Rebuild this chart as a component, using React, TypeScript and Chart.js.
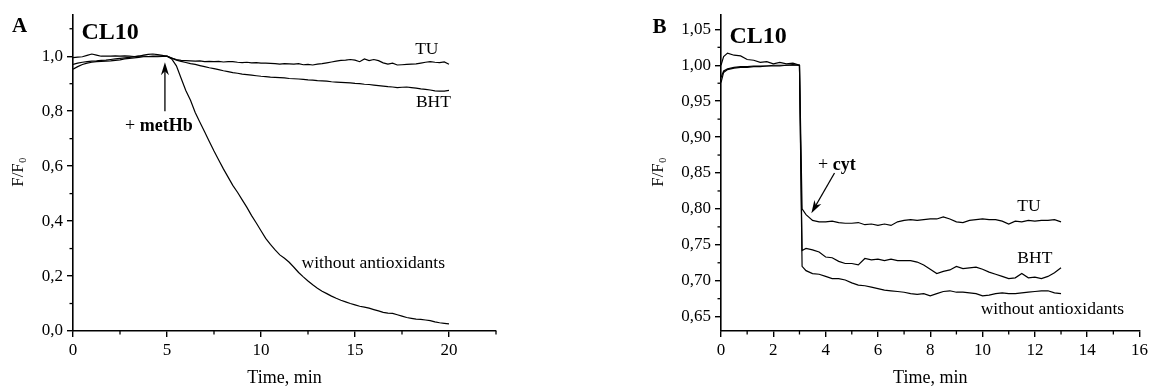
import { useEffect, useRef } from "react";
import { Chart, registerables } from "chart.js";
Chart.register(...registerables);

const FONT = '"Liberation Serif", "Times New Roman", serif';

// ---------- Panel A data (time, min) ----------
const timeA = [
  0, 0.25, 0.5, 0.75, 1, 1.25, 1.5, 1.75, 2, 2.25, 2.5, 2.75, 3, 3.25, 3.5, 3.75, 4, 4.25, 4.5, 4.75,
  5, 5.25, 5.5, 5.75, 6, 6.25, 6.5, 6.75, 7, 7.25, 7.5, 7.75, 8, 8.25, 8.5, 8.75, 9, 9.25, 9.5, 9.75,
  10, 10.25, 10.5, 10.75, 11, 11.25, 11.5, 11.75, 12, 12.25, 12.5, 12.75, 13, 13.25, 13.5, 13.75, 14, 14.25, 14.5, 14.75,
  15, 15.25, 15.5, 15.75, 16, 16.25, 16.5, 16.75, 17, 17.25, 17.5, 17.75, 18, 18.25, 18.5, 18.75, 19, 19.25, 19.5, 19.75,
  20,
];
const tuA = [
  0.995, 0.997, 0.998, 1.003, 1.008, 1.004, 1.0, 1.0, 1.0, 1.001, 1.0, 1.001, 1.0, 0.999, 1.0, 1.0, 0.999, 1.0, 1.0, 1.0,
  1.0, 0.993, 0.988, 0.985, 0.984, 0.983, 0.982, 0.983, 0.98, 0.981, 0.98, 0.981, 0.979, 0.98, 0.98, 0.978, 0.977, 0.978, 0.976, 0.977,
  0.975, 0.975, 0.974, 0.973, 0.971, 0.973, 0.972, 0.971, 0.973, 0.969, 0.97, 0.968, 0.971, 0.973, 0.976, 0.979, 0.982, 0.985, 0.986, 0.988,
  0.986, 0.98, 0.99, 0.984, 0.988, 0.984, 0.976, 0.971, 0.975, 0.968, 0.969, 0.97, 0.971, 0.972, 0.975, 0.978, 0.98, 0.978, 0.977, 0.979,
  0.971,
];
const bhtA = [
  0.97, 0.975, 0.978, 0.98, 0.982, 0.983, 0.985, 0.986, 0.988, 0.99, 0.992, 0.994, 0.996, 0.998, 1.0, 1.004, 1.007, 1.008, 1.006, 1.003,
  1.0, 0.993, 0.986, 0.981, 0.977, 0.973, 0.97, 0.966, 0.962, 0.958, 0.955, 0.951, 0.947, 0.944, 0.94, 0.938, 0.935, 0.933, 0.931, 0.929,
  0.927, 0.926, 0.924, 0.923, 0.922, 0.921, 0.919, 0.918, 0.917, 0.916, 0.914, 0.913, 0.911, 0.91, 0.909, 0.907, 0.906, 0.905, 0.904, 0.903,
  0.901, 0.9, 0.898, 0.897, 0.895, 0.893, 0.891, 0.889, 0.888, 0.886, 0.887, 0.888, 0.886, 0.884, 0.881, 0.879, 0.877, 0.874, 0.873, 0.873,
  0.876,
];
const noneA = [
  0.953, 0.962, 0.97, 0.975, 0.978, 0.98, 0.981, 0.982, 0.983, 0.985, 0.987, 0.99, 0.992, 0.994, 0.996, 0.998, 0.998, 0.999, 0.998, 0.999,
  1.0, 0.99, 0.965, 0.92, 0.875, 0.84, 0.795, 0.76, 0.725, 0.69, 0.655, 0.622, 0.59, 0.56, 0.53, 0.505, 0.477, 0.45, 0.42, 0.393,
  0.365, 0.337, 0.315, 0.295, 0.277, 0.265, 0.25, 0.232, 0.213, 0.197, 0.182, 0.168, 0.156, 0.145, 0.136, 0.127, 0.119, 0.112, 0.106, 0.1,
  0.095, 0.09, 0.087, 0.083, 0.078, 0.073, 0.068, 0.065, 0.064, 0.059, 0.054, 0.049, 0.046, 0.043, 0.042, 0.04, 0.038, 0.033, 0.03, 0.028,
  0.026,
];
const xTicksA = [0, 5, 10, 15, 20];
const xMinorA = [2.5, 7.5, 12.5, 17.5, 22.5];
const yTicksA = [0, 0.2, 0.4, 0.6, 0.8, 1.0];
const yMinorA = [0.1, 0.3, 0.5, 0.7, 0.9, 1.1];

// ---------- Panel B data (time, min) ----------
const timeB = [
  0, 0.1, 0.25, 0.5, 0.75, 1, 1.25, 1.5, 1.75, 2, 2.25, 2.5, 2.75, 3,
  3.1,
  3.25, 3.5, 3.75, 4, 4.25, 4.5, 4.75, 5, 5.25, 5.5, 5.75, 6, 6.25, 6.5, 6.75, 7, 7.25, 7.5, 7.75, 8,
  8.25, 8.5, 8.75, 9, 9.25, 9.5, 9.75, 10, 10.25, 10.5, 10.75, 11, 11.25, 11.5, 11.75, 12, 12.25, 12.5, 12.75, 13,
];
const tuB = [
  1.0, 1.012, 1.017, 1.014, 1.013, 1.008, 1.007, 1.004, 1.005, 1.002, 1.004, 1.002, 1.003, 1.0,
  0.8,
  0.792, 0.784, 0.782, 0.782, 0.783, 0.781, 0.78, 0.78, 0.781, 0.778, 0.779, 0.777, 0.779, 0.777, 0.782, 0.784, 0.785, 0.784, 0.785, 0.786,
  0.786, 0.789, 0.786, 0.782, 0.781, 0.784, 0.785, 0.786, 0.785, 0.785, 0.783, 0.779, 0.783, 0.782, 0.784, 0.783, 0.784, 0.784, 0.785, 0.782,
];
const bhtB = [
  0.976, 0.99, 0.994, 0.996, 0.997, 0.997, 0.998, 0.998, 0.999, 0.999, 0.999, 1.0, 1.0, 1.0,
  0.742,
  0.745, 0.743, 0.74, 0.733, 0.732, 0.727, 0.724, 0.724, 0.722, 0.731, 0.729, 0.73, 0.728, 0.73, 0.728, 0.728, 0.728, 0.726, 0.722, 0.716,
  0.71, 0.713, 0.715, 0.72, 0.717, 0.718, 0.719, 0.716, 0.712, 0.709, 0.706, 0.703, 0.704, 0.71, 0.704, 0.705, 0.703, 0.706, 0.711, 0.718,
];
const noneB = [
  0.983, 0.992, 0.995, 0.997, 0.998, 0.998, 0.999, 0.999, 0.999, 1.0, 1.0, 1.0, 1.001, 1.0,
  0.72,
  0.714, 0.71, 0.709, 0.706, 0.703, 0.703, 0.701, 0.697, 0.694, 0.693, 0.691, 0.689, 0.687, 0.686, 0.685, 0.684, 0.682, 0.681, 0.682, 0.679,
  0.682, 0.685, 0.686, 0.684, 0.684, 0.683, 0.682, 0.679, 0.68, 0.682, 0.683, 0.682, 0.682, 0.683, 0.684, 0.685, 0.686, 0.686, 0.683, 0.682,
];
const xTicksB = [0, 2, 4, 6, 8, 10, 12, 14, 16];
const xMinorB = [1, 3, 5, 7, 9, 11, 13, 15];
const yTicksB = [0.65, 0.7, 0.75, 0.8, 0.85, 0.9, 0.95, 1.0, 1.05];
const yMinorB = [0.675, 0.725, 0.775, 0.825, 0.875, 0.925, 0.975, 1.025];

type Lbl = { text: string; x: number; y: number };
type Part = { t: string; bold: boolean };

interface Panel {
  key: string;
  left: number;
  width: number;
  padRight: number;
  yWidth: number;
  xMin: number;
  xMax: number;
  yMin: number;
  yMax: number;
  yDec: number;
  time: number[];
  series: number[][];
  xTicks: number[];
  xMinor: number[];
  yTicks: number[];
  yMinor: number[];
  letter: string;
  letterX: number;
  letterY: number;
  titleY: number;
  yTitleX: number;
  labels: Lbl[];
  note: Part[];
  noteAt: { x: number; y: number };
  arrow: { x1: number; y1: number; x2: number; y2: number };
}

const panels: Panel[] = [
  {
    key: "A", left: 0, width: 575, padRight: 79, yWidth: 73,
    xMin: 0, xMax: 22.5, yMin: 0, yMax: 1.15, yDec: 1,
    time: timeA, series: [tuA, bhtA, noneA],
    xTicks: xTicksA, xMinor: xMinorA, yTicks: yTicksA, yMinor: yMinorA,
    letter: "A", letterX: 12, letterY: 27, titleY: 33, yTitleX: 18,
    labels: [
      { text: "TU", x: 18.2, y: 1.025 },
      { text: "BHT", x: 18.24, y: 0.831 },
      { text: "without antioxidants", x: 12.16, y: 0.247 },
    ],
    note: [{ t: "+ ", bold: false }, { t: "metHb", bold: true }],
    noteAt: { x: 2.77, y: 0.746 },
    arrow: { x1: 4.89, y1: 0.8, x2: 4.89, y2: 0.978 },
  },
  {
    key: "B", left: 575, width: 576, padRight: 10, yWidth: 146,
    xMin: 0, xMax: 16, yMin: 0.63, yMax: 1.07, yDec: 2,
    time: timeB, series: [tuB, bhtB, noneB],
    xTicks: xTicksB, xMinor: xMinorB, yTicks: yTicksB, yMinor: yMinorB,
    letter: "B", letterX: 77.5, letterY: 28, titleY: 36.5, yTitleX: 83,
    labels: [
      { text: "TU", x: 11.33, y: 0.8034 },
      { text: "BHT", x: 11.33, y: 0.7304 },
      { text: "without antioxidants", x: 9.93, y: 0.6594 },
    ],
    note: [{ t: "+ ", bold: false }, { t: "cyt", bold: true }],
    noteAt: { x: 3.71, y: 0.8604 },
    arrow: { x1: 4.34, y1: 0.85, x2: 3.455, y2: 0.794 },
  },
];

function drawArrow(ctx: CanvasRenderingContext2D, x1: number, y1: number, x2: number, y2: number) {
  const ang = Math.atan2(y2 - y1, x2 - x1);
  const L = 13;
  const W = 4;
  const c = Math.cos(ang);
  const s = Math.sin(ang);
  const bx = x2 - L * c;
  const by = y2 - L * s;
  ctx.beginPath();
  ctx.moveTo(x1, y1);
  ctx.lineTo(x2 - 8 * c, y2 - 8 * s);
  ctx.lineWidth = 1.3;
  ctx.stroke();
  ctx.beginPath();
  ctx.moveTo(x2, y2);
  ctx.lineTo(bx - W * s, by + W * c);
  ctx.lineTo(x2 - 0.7 * L * c, y2 - 0.7 * L * s);
  ctx.lineTo(bx + W * s, by - W * c);
  ctx.closePath();
  ctx.fill();
}

function annotPlugin(p: Panel) {
  return {
    id: "annot" + p.key,
    afterDraw(chart: any) {
      const ctx: CanvasRenderingContext2D = chart.ctx;
      const xs = chart.scales.x;
      const ys = chart.scales.y;
      const ca = chart.chartArea;
      ctx.save();
      ctx.strokeStyle = "#000";
      ctx.fillStyle = "#000";
      // minor ticks
      ctx.lineWidth = 1.3;
      p.xMinor.forEach((v) => {
        const x = xs.getPixelForValue(v);
        ctx.beginPath();
        ctx.moveTo(x, ca.bottom);
        ctx.lineTo(x, ca.bottom + 3.5);
        ctx.stroke();
      });
      p.yMinor.forEach((v) => {
        const y = ys.getPixelForValue(v);
        ctx.beginPath();
        ctx.moveTo(ca.left, y);
        ctx.lineTo(ca.left - 3.5, y);
        ctx.stroke();
      });
      // panel letter and title
      ctx.textBaseline = "middle";
      ctx.textAlign = "left";
      ctx.font = `bold 21px ${FONT}`;
      ctx.fillText(p.letter, p.letterX, p.letterY);
      ctx.font = `bold 24px ${FONT}`;
      ctx.fillText("CL10", ca.left + 8.5, p.titleY);
      // series labels
      ctx.font = `17.5px ${FONT}`;
      p.labels.forEach((l) => {
        ctx.fillText(l.text, xs.getPixelForValue(l.x), ys.getPixelForValue(l.y));
      });
      // note with mixed weight
      let nx = xs.getPixelForValue(p.noteAt.x);
      const ny = ys.getPixelForValue(p.noteAt.y);
      p.note.forEach((part) => {
        ctx.font = `${part.bold ? "bold " : ""}18px ${FONT}`;
        ctx.fillText(part.t, nx, ny);
        nx += ctx.measureText(part.t).width;
      });
      drawArrow(
        ctx,
        xs.getPixelForValue(p.arrow.x1),
        ys.getPixelForValue(p.arrow.y1),
        xs.getPixelForValue(p.arrow.x2),
        ys.getPixelForValue(p.arrow.y2)
      );
      // x axis title
      ctx.textAlign = "center";
      ctx.font = `18px ${FONT}`;
      ctx.fillText("Time, min", (ca.left + ca.right) / 2, 378);
      // y axis title F/F0 (rotated)
      ctx.translate(p.yTitleX, 172.5);
      ctx.rotate(-Math.PI / 2);
      ctx.textAlign = "left";
      ctx.textBaseline = "alphabetic";
      ctx.font = `17px ${FONT}`;
      const w1 = ctx.measureText("F/F").width;
      ctx.font = `10px ${FONT}`;
      const w2 = ctx.measureText("0").width;
      const start = -(w1 + w2) / 2;
      ctx.font = `17px ${FONT}`;
      ctx.fillText("F/F", start, 5);
      ctx.font = `10px ${FONT}`;
      ctx.fillText("0", start + w1 + 0.5, 8);
      ctx.restore();
    },
  };
}

function makeConfig(p: Panel): any {
  const fmt = (v: number) => Number(v).toFixed(p.yDec).replace(".", ",");
  return {
    type: "line",
    data: {
      datasets: p.series.map((vals) => ({
        data: p.time.map((t, i) => ({ x: t, y: vals[i] })),
        borderColor: "#000",
        borderWidth: 1.2,
        pointRadius: 0,
        tension: 0,
        fill: false,
      })),
    },
    options: {
      animation: false,
      responsive: false,
      maintainAspectRatio: false,
      devicePixelRatio: 1,
      events: [],
      layout: { padding: { left: 0, right: p.padRight, top: 15, bottom: 0 } },
      plugins: { legend: { display: false }, tooltip: { enabled: false }, title: { display: false } },
      scales: {
        x: {
          type: "linear",
          min: p.xMin,
          max: p.xMax,
          afterBuildTicks: (s: any) => {
            s.ticks = p.xTicks.map((value) => ({ value }));
          },
          afterFit: (s: any) => {
            s.height = 57;
          },
          border: { display: true, color: "#000", width: 1.6 },
          grid: { display: true, drawOnChartArea: false, drawTicks: true, tickLength: 6, color: "#000", lineWidth: 1.4 },
          ticks: {
            color: "#000",
            font: { family: FONT, size: 17 },
            padding: 3,
            maxRotation: 0,
            autoSkip: false,
            callback: (v: number) => String(v),
          },
        },
        y: {
          type: "linear",
          min: p.yMin,
          max: p.yMax,
          afterBuildTicks: (s: any) => {
            s.ticks = p.yTicks.map((value) => ({ value }));
          },
          afterFit: (s: any) => {
            s.width = p.yWidth;
          },
          border: { display: true, color: "#000", width: 1.6 },
          grid: { display: true, drawOnChartArea: false, drawTicks: true, tickLength: 6, color: "#000", lineWidth: 1.4 },
          ticks: {
            color: "#000",
            font: { family: FONT, size: 17 },
            padding: 4,
            autoSkip: false,
            callback: (v: number) => fmt(v),
          },
        },
      },
    },
    plugins: [annotPlugin(p)],
  };
}

function PanelChart({ p }: { p: Panel }) {
  const ref = useRef<HTMLCanvasElement>(null);
  useEffect(() => {
    const chart = new Chart(ref.current as HTMLCanvasElement, makeConfig(p));
    return () => chart.destroy();
  }, [p]);
  return (
    <canvas
      ref={ref}
      width={p.width}
      height={388}
      style={{ position: "absolute", left: p.left, top: 0, width: p.width, height: 388 }}
    />
  );
}

export default function App() {
  return (
    <div style={{ position: "absolute", left: 0, top: 0, width: 1151, height: 388, background: "#fff" }}>
      {panels.map((p) => (
        <PanelChart key={p.key} p={p} />
      ))}
    </div>
  );
}
